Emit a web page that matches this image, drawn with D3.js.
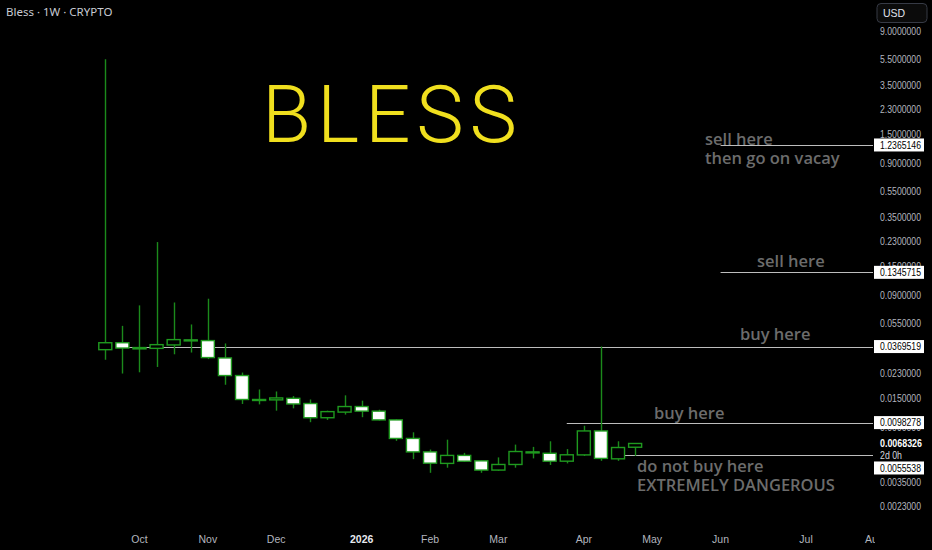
<!DOCTYPE html>
<html><head><meta charset="utf-8">
<script src="https://cdn.jsdelivr.net/npm/d3@7/dist/d3.min.js"></script>
<style>
html,body{margin:0;padding:0;background:#000;}
svg{display:block;}
</style></head>
<body>
<svg id="c" width="932" height="550"></svg>
<script>
// ---------- DATA ----------
const weeks = ["2025-09-22","2025-09-29","2025-10-06","2025-10-13","2025-10-20","2025-10-27",
  "2025-11-03","2025-11-10","2025-11-17","2025-11-24","2025-12-01","2025-12-08","2025-12-15",
  "2025-12-22","2025-12-29","2026-01-05","2026-01-12","2026-01-19","2026-01-26","2026-02-02",
  "2026-02-09","2026-02-16","2026-02-23","2026-03-02","2026-03-09","2026-03-16","2026-03-23",
  "2026-03-30","2026-04-06","2026-04-13","2026-04-20","2026-04-27"];
const opens  = [0.035,0.0395,0.0355,0.0358,0.038,0.0415,0.041,0.0303,0.0223,0.0147,0.0146,0.015,0.0137,0.0107,0.0118,0.013,0.012,0.0103,0.00746,0.0059,0.00483,0.00555,0.00505,0.0043,0.00474,0.0059,0.00576,0.00502,0.0056,0.0085,0.00523,0.0064];
const highs  = [5.5,0.053,0.0757,0.228,0.0796,0.0543,0.085,0.039,0.0235,0.0175,0.0169,0.0156,0.0147,0.0121,0.0158,0.0144,0.0123,0.0104,0.0083,0.00615,0.0073,0.0058,0.0051,0.00536,0.0067,0.00644,0.0071,0.0062,0.0093,0.037,0.0071,0.00686];
const lows   = [0.0294,0.0231,0.0236,0.0259,0.0323,0.0333,0.0297,0.019,0.0136,0.0135,0.0121,0.0126,0.0099,0.0103,0.0113,0.0108,0.0102,0.00715,0.0052,0.0041,0.00448,0.00495,0.0041,0.00425,0.00448,0.00527,0.0047,0.00483,0.0055,0.00505,0.00505,0.0055];
const closes = [0.0395,0.036,0.0363,0.0382,0.0417,0.0408,0.0305,0.0223,0.0147,0.0146,0.0151,0.0136,0.0107,0.0119,0.013,0.012,0.0103,0.00746,0.0059,0.00485,0.00555,0.00502,0.0043,0.00474,0.00594,0.0058,0.00502,0.00561,0.0085,0.00527,0.00637,0.0068326];

const priceTicks = [9,5.5,3.5,2.3,1.5,0.9,0.55,0.35,0.23,0.15,0.09,0.055,0.023,0.015,0.009,0.0035,0.0023];
const monthTickDates  = ["2025-10-06","2025-11-03","2025-12-01","2026-01-05","2026-02-02","2026-03-02","2026-04-06","2026-05-04","2026-06-01","2026-07-06","2026-08-03"];
const monthTickLabels = ["Oct","Nov","Dec","2026","Feb","Mar","Apr","May","Jun","Jul","Aug"];

const levelPrices = [1.2365146,0.1345715,0.0369519,0.0098278,0.0055538];
const levelStarts = ["2026-06-01","2026-06-01","2025-09-29","2026-03-30","2026-04-20"];
const levelNotes  = [["sell here","then go on vacay"],["sell here"],["buy here"],["buy here"],["do not buy here","EXTREMELY DANGEROUS"]];
const currentPrice = 0.0068326;
const countdown = "2d 0h";
const title = "Bless · 1W · CRYPTO";
const drawingText = "BLESS";

// ---------- SCALES ----------
const parse = d3.utcParse("%Y-%m-%d");
const x = d3.scaleUtc().domain([parse("2025-09-22"), parse("2026-08-03")]).range([105.3, 874.4]);
const y = d3.scaleLog().domain([0.0023, 9]).range([506, 31]);

const svg = d3.select("#c");
svg.append("rect").attr("width",932).attr("height",550).attr("fill","#000");

const defs = svg.append("defs");
defs.append("clipPath").attr("id","plot").append("rect").attr("x",0).attr("y",0).attr("width",873).attr("height",526);
defs.append("clipPath").attr("id","xax").append("rect").attr("x",0).attr("y",526).attr("width",875).attr("height",24);

const plot = svg.append("g").attr("clip-path","url(#plot)");

// title
svg.append("text").attr("x",6).attr("y",16).attr("fill","#c8cbd3")
  .attr("font-family","'Noto Sans', sans-serif").attr("font-size",11.5).text(title);

// drawing text
plot.append("text").attr("x",262).attr("y",142).attr("fill","#f0df1e")
  .attr("font-family","Roboto, sans-serif").attr("font-weight",300).attr("font-size",80)
  .attr("textLength",255).attr("lengthAdjust","spacing").text(drawingText);

// level lines
const lvl = levelPrices.map((p,i)=>({p, start:parse(levelStarts[i]), notes:levelNotes[i]}));
plot.selectAll("line.lvl").data(lvl).join("line").attr("class","lvl")
  .attr("x1",d=>x(d.start)).attr("x2",873)
  .attr("y1",d=>Math.round(y(d.p))+0.5).attr("y2",d=>Math.round(y(d.p))+0.5)
  .attr("stroke","#bdbdbd").attr("stroke-width",1);

// candles
const candles = weeks.map((w,i)=>({d:parse(w), o:opens[i], h:highs[i], l:lows[i], c:closes[i]}));
const green = "#1f9a1f";
const cg = plot.append("g");
cg.selectAll("line.wick").data(candles).join("line").attr("class","wick")
  .attr("x1",d=>Math.round(x(d.d))+0.5).attr("x2",d=>Math.round(x(d.d))+0.5)
  .attr("y1",d=>y(d.h)).attr("y2",d=>y(d.l))
  .attr("stroke","#1b8a1b").attr("stroke-width",1.4);
cg.selectAll("rect.body").data(candles).join("rect").attr("class","body")
  .attr("x",d=>x(d.d)-6.5).attr("width",13)
  .attr("y",d=>y(Math.max(d.o,d.c)))
  .attr("height",d=>Math.max(1,Math.abs(y(d.o)-y(d.c))))
  .attr("fill",d=>d.c>=d.o?"#000":"#ffffff")
  .attr("stroke",green).attr("stroke-width",1.4);

// annotations text
const noteStyle = {fill:"#6c6c6c", family:"'Open Sans', sans-serif", weight:600, size:16.5};
const notePos = [[705,145,19],[757,267,0],[740,340,0],[654,419,0],[637,472,18.5]];
lvl.forEach((d,i)=>{
  d.notes.forEach((t,j)=>{
    plot.append("text").attr("x",notePos[i][0]).attr("y",notePos[i][1]+j*notePos[i][2])
      .attr("fill",noteStyle.fill).attr("font-family",noteStyle.family)
      .attr("font-weight",noteStyle.weight).attr("font-size",noteStyle.size).text(t);
  });
});

// right price axis tick labels (narrowed to match the scale's compact font)
const axF = "'Liberation Sans', Arial, sans-serif";
const axS = 10.5;
const priceW = 41;
svg.append("g").selectAll("text").data(priceTicks).join("text")
  .attr("x",880).attr("y",d=>y(d)).attr("dy","0.35em")
  .attr("fill","#b2b5be").attr("font-family",axF).attr("font-size",axS)
  .attr("textLength",priceW).attr("lengthAdjust","spacingAndGlyphs")
  .text(d=>d3.format(".7f")(d));

// current price label + countdown
const cy = y(currentPrice);
svg.append("rect").attr("x",874).attr("y",cy-7).attr("width",56).attr("height",19).attr("fill","#000");
svg.append("text").attr("x",880).attr("y",cy).attr("dy","0.35em").attr("fill","#ffffff")
  .attr("font-family",axF).attr("font-weight",700).attr("font-size",axS)
  .attr("textLength",priceW+1).attr("lengthAdjust","spacingAndGlyphs")
  .text(d3.format(".7f")(currentPrice));
svg.append("text").attr("x",880).attr("y",cy+11.5).attr("dy","0.35em").attr("fill","#d1d4dc")
  .attr("font-family",axF).attr("font-size",axS)
  .attr("textLength",22).attr("lengthAdjust","spacingAndGlyphs").text(countdown);

// level price boxes
lvl.forEach((d,i)=>{
  let ly = y(d.p);
  if (Math.abs(ly-cy) < 20) ly = cy + 24.5; // pushed below countdown
  const g = svg.append("g");
  g.append("rect").attr("x",874).attr("y",ly-6.5).attr("width",50).attr("height",13).attr("fill","#ffffff");
  g.append("text").attr("x",880).attr("y",ly).attr("dy","0.35em").attr("fill","#000")
    .attr("font-family",axF).attr("font-size",axS)
    .attr("textLength",priceW).attr("lengthAdjust","spacingAndGlyphs")
    .text(d3.format(".7f")(d.p));
});

// USD box
svg.append("rect").attr("x",877).attr("y",3.5).attr("width",50).attr("height",19).attr("rx",4)
  .attr("fill","#0b0b0b").attr("stroke","#363a45");
svg.append("text").attr("x",883).attr("y",16.5).attr("fill","#e0e3eb")
  .attr("font-family",axF).attr("font-size",10.5).text("USD");

// time axis
svg.append("g").attr("clip-path","url(#xax)").selectAll("text").data(monthTickDates).join("text")
  .attr("x",d=>x(parse(d))).attr("y",543).attr("text-anchor","middle")
  .attr("fill",(d,i)=>monthTickLabels[i]==="2026"?"#e6e8ee":"#b2b5be")
  .attr("font-weight",(d,i)=>monthTickLabels[i]==="2026"?700:400)
  .attr("font-family",axF).attr("font-size",axS)
  .text((d,i)=>monthTickLabels[i]);
</script>
</body></html>
